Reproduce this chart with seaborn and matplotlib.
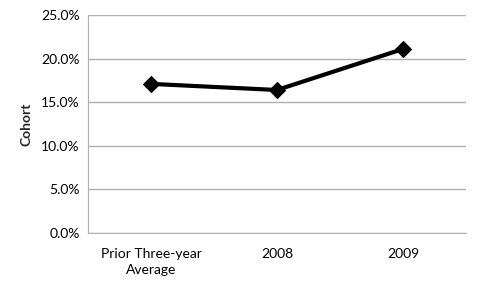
import matplotlib
matplotlib.use("Agg")
import matplotlib.pyplot as plt
import seaborn as sns
import pandas as pd
from matplotlib.ticker import PercentFormatter

categories = ["Prior Three-year\nAverage", "2008", "2009"]
values = [17.1, 16.4, 21.1]
yticks = [0, 5, 10, 15, 20, 25]

sns.set_style("white")
plt.rcParams['font.family'] = ['Lato', 'DejaVu Sans']

df = pd.DataFrame({"cat": categories, "val": values})

fig = plt.figure(figsize=(4.8, 2.88), dpi=100)
ax = fig.add_axes([88/480, 1 - 233/288, (466-88)/480, (233-15)/288])

sns.lineplot(data=df, x="cat", y="val", ax=ax, color="black", linewidth=3,
             marker="D", markersize=8.5, markeredgecolor="black", sort=False)

ax.set_ylim(0, 25)
ax.set_xlim(-0.5, 2.5)
ax.set_yticks(yticks)
ax.yaxis.set_major_formatter(PercentFormatter(decimals=1))
ax.grid(axis="y", color="#b0b0b0", linewidth=1)
ax.set_axisbelow(True)
for s in ["top", "right"]:
    ax.spines[s].set_visible(False)
ax.spines["left"].set_color("#b0b0b0")
ax.spines["bottom"].set_color("#b0b0b0")
ax.tick_params(axis="y", length=0, labelsize=10, colors="black", pad=6)
ax.tick_params(axis="x", length=0, labelsize=10, colors="black", pad=11)
for lbl in ax.get_xticklabels():
    lbl.set_linespacing(1.35)
ax.set_xlabel("")
ax.set_ylabel("Cohort", fontsize=10, fontweight="bold", labelpad=6)

fig.savefig("out.png", dpi=100)
